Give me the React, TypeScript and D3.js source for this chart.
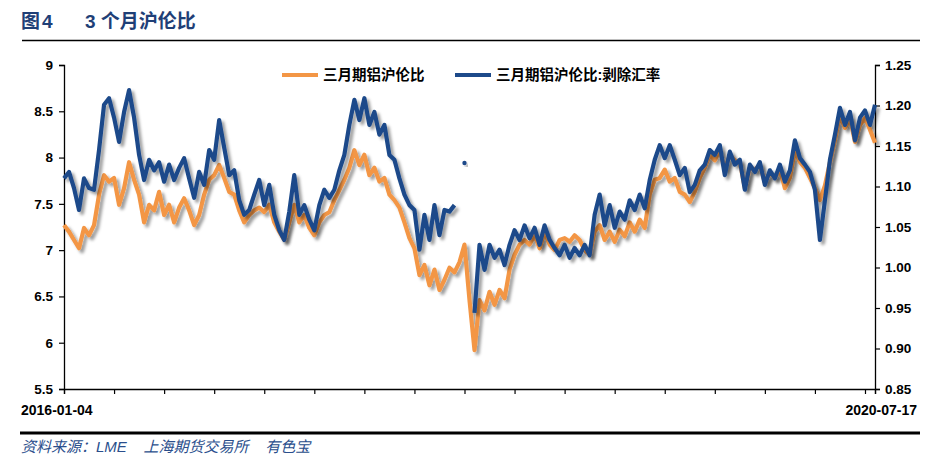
import React, { useEffect, useRef } from "react";
import * as d3 from "d3";

// 三月期铝沪伦比 (left axis) at even steps from 2016-01-04 to 2020-07-17
const shlmeRatio: number[] = [
  7.27, 7.20, 7.11, 7.02, 7.24, 7.16, 7.27, 7.60, 7.81, 7.74,
  7.78, 7.49, 7.67, 7.95, 7.76, 7.60, 7.30, 7.49, 7.43, 7.63,
  7.38, 7.49, 7.30, 7.46, 7.56, 7.43, 7.27, 7.38, 7.60, 7.76,
  7.81, 7.92, 7.78, 7.63, 7.60, 7.43, 7.30, 7.38, 7.43, 7.46,
  7.41, 7.49, 7.30, 7.20, 7.11, 7.30, 7.49, 7.30, 7.38, 7.24,
  7.16, 7.30, 7.38, 7.41, 7.54, 7.65, 7.76, 7.89, 8.08, 7.92,
  8.03, 7.81, 7.89, 7.74, 7.78, 7.60, 7.54, 7.46, 7.30, 7.13,
  7.02, 6.73, 6.84, 6.62, 6.79, 6.57, 6.68, 6.81, 6.76, 6.87,
  7.06, 6.46, 5.92, 6.46, 6.35, 6.55, 6.41, 6.57, 6.48, 6.79,
  6.95, 7.06, 7.11, 7.06, 7.16, 7.02, 7.20, 7.06, 7.00, 7.11,
  7.13, 7.09, 7.16, 7.11, 7.00, 6.95, 7.20, 7.27, 7.11, 7.20,
  7.09, 7.22, 7.15, 7.30, 7.20, 7.33, 7.24, 7.60, 7.76, 7.78,
  7.87, 7.74, 7.78, 7.63, 7.60, 7.52, 7.63, 7.78, 7.89, 8.03,
  7.97, 8.08, 7.87, 8.03, 7.97, 7.95, 7.67, 7.89, 7.87, 7.92,
  7.73, 7.84, 7.78, 7.87, 7.67, 7.78, 8.08, 7.95, 7.89, 7.78,
  7.67, 7.54, 7.70, 7.95, 8.19, 8.46, 8.32, 8.43, 8.17, 8.35,
  8.43, 8.30, 8.16,
];

// 三月期铝沪伦比:剥除汇率 (right axis)
const shlmeExFx: (number | null)[] = [
  1.110, 1.118, 1.098, 1.071, 1.110, 1.098, 1.096, 1.145, 1.201, 1.209,
  1.185, 1.155, 1.192, 1.219, 1.185, 1.139, 1.108, 1.133, 1.120, 1.130,
  1.106, 1.127, 1.108, 1.123, 1.135, 1.110, 1.086, 1.118, 1.102, 1.145,
  1.133, 1.182, 1.148, 1.114, 1.120, 1.083, 1.065, 1.071, 1.090, 1.108,
  1.077, 1.102, 1.065, 1.046, 1.034, 1.069, 1.114, 1.065, 1.077, 1.059,
  1.046, 1.077, 1.096, 1.086, 1.096, 1.120, 1.139, 1.176, 1.207, 1.182,
  1.209, 1.176, 1.192, 1.164, 1.176, 1.139, 1.133, 1.110, 1.090, 1.077,
  1.071, 1.022, 1.065, 1.034, 1.077, 1.040, 1.071, 1.069, 1.077, null,
  1.129, null, 0.944, 1.028, 0.997, 1.028, 1.012, 1.022, 1.003, 1.028,
  1.046, 1.034, 1.052, 1.036, 1.049, 1.028, 1.052, 1.034, 1.024, 1.015,
  1.028, 1.012, 1.024, 1.015, 1.028, 1.015, 1.065, 1.090, 1.052, 1.077,
  1.049, 1.069, 1.059, 1.083, 1.071, 1.090, 1.073, 1.108, 1.133, 1.151,
  1.135, 1.151, 1.133, 1.114, 1.123, 1.093, 1.102, 1.120, 1.127, 1.145,
  1.139, 1.151, 1.114, 1.143, 1.127, 1.133, 1.096, 1.127, 1.118, 1.130,
  1.102, 1.120, 1.110, 1.127, 1.106, 1.120, 1.157, 1.135, 1.127, 1.118,
  1.096, 1.034, 1.083, 1.133, 1.164, 1.197, 1.176, 1.192, 1.157, 1.185,
  1.194, 1.176, 1.201,
];

const xLabels = ["2016-01-04", "2020-07-17"];
const seriesNames = ["三月期铝沪伦比", "三月期铝沪伦比:剥除汇率"];
const leftTicks = [5.5, 6, 6.5, 7, 7.5, 8, 8.5, 9];
const rightTicks = [0.85, 0.9, 0.95, 1.0, 1.05, 1.1, 1.15, 1.2, 1.25];

const ORANGE = "#F39645";
const BLUE = "#1D4A8A";
const FONT = "Arial, 'Liberation Sans', 'Noto Sans CJK SC', sans-serif";

const App = () => {
  const ref = useRef<SVGSVGElement>(null);

  useEffect(() => {
    const svg = d3.select(ref.current);
    svg.selectAll("*").remove();

    const width = 935;
    const height = 460;
    const margin = { top: 65, right: 60, bottom: 71, left: 64 };
    const n = shlmeRatio.length;

    const x = d3.scaleLinear().domain([0, n - 1]).range([margin.left, width - margin.right]);
    const yL = d3.scaleLinear().domain([5.5, 9]).range([height - margin.bottom, margin.top]);
    const yR = d3.scaleLinear().domain([0.85, 1.25]).range([height - margin.bottom, margin.top]);

    svg.attr("width", width).attr("height", height).style("font-family", FONT);

    const defs = svg.append("defs");
    defs.append("filter")
      .attr("id", "shadow")
      .attr("x", "-5%").attr("y", "-10%").attr("width", "115%").attr("height", "130%")
      .append("feDropShadow")
      .attr("dx", 3).attr("dy", 3).attr("stdDeviation", 1.6)
      .attr("flood-color", "#000").attr("flood-opacity", 0.38);

    // title
    svg.append("text").attr("x", 21).attr("y", 28)
      .attr("font-size", 19).attr("font-weight", "bold").attr("fill", "#1F3F77")
      .attr("letter-spacing", 2)
      .text("图4");
    svg.append("text").attr("x", 85).attr("y", 28)
      .attr("font-size", 19).attr("font-weight", "bold").attr("fill", "#1F3F77")
      .text("3 个月沪伦比");
    svg.append("line").attr("x1", 22).attr("x2", 920).attr("y1", 40.5).attr("y2", 40.5)
      .attr("stroke", "#000").attr("stroke-width", 1.5);

    // axes
    const gl = svg.append("g").attr("transform", `translate(${margin.left},0)`)
      .call(d3.axisLeft(yL).tickValues(leftTicks).tickSize(5).tickPadding(6).tickFormat(d => String(d)));
    const gr = svg.append("g").attr("transform", `translate(${width - margin.right},0)`)
      .call(d3.axisRight(yR).tickValues(rightTicks).tickSize(5).tickPadding(5).tickFormat(d3.format(".2f")));
    const xTicks = d3.range(0, n, 10).concat([n - 1]);
    const gb = svg.append("g").attr("transform", `translate(0,${height - margin.bottom})`)
      .call(d3.axisBottom(x).tickValues(xTicks).tickSize(5).tickFormat(() => ""));
    [gl, gr, gb].forEach(g => {
      g.select(".domain").attr("stroke", "#000").attr("stroke-width", 1.3);
      g.selectAll(".tick line").attr("stroke", "#000").attr("stroke-width", 1.2);
      g.selectAll(".tick text").attr("font-size", 13.5).attr("font-weight", "bold")
        .attr("fill", "#000").style("font-family", FONT);
    });

    svg.append("text").attr("x", 21).attr("y", 415)
      .attr("font-size", 14).attr("font-weight", "bold").text(xLabels[0]);
    svg.append("text").attr("x", 917).attr("y", 415).attr("text-anchor", "end")
      .attr("font-size", 14).attr("font-weight", "bold").text(xLabels[1]);

    // lines
    const lineL = d3.line<number>().x((_, i) => x(i)).y(d => yL(d));
    const lineR = d3.line<number | null>()
      .defined(d => d != null)
      .x((_, i) => x(i)).y(d => yR(d as number));

    svg.append("path").datum(shlmeRatio).attr("d", lineL)
      .attr("fill", "none").attr("stroke", ORANGE).attr("stroke-width", 4.2)
      .attr("stroke-linejoin", "round").attr("filter", "url(#shadow)");

    svg.append("path").datum(shlmeExFx).attr("d", lineR)
      .attr("fill", "none").attr("stroke", BLUE).attr("stroke-width", 4.2)
      .attr("stroke-linejoin", "round").attr("filter", "url(#shadow)");

    // isolated points of the blue series
    svg.selectAll("circle.iso")
      .data(shlmeExFx.map((d, i) => ({ d, i }))
        .filter(p => p.d != null && shlmeExFx[p.i - 1] == null && shlmeExFx[p.i + 1] == null))
      .enter().append("circle")
      .attr("cx", p => x(p.i)).attr("cy", p => yR(p.d as number)).attr("r", 2.2)
      .attr("fill", BLUE).attr("filter", "url(#shadow)");

    // legend
    const legend = [
      { name: seriesNames[0], color: ORANGE, x0: 282 },
      { name: seriesNames[1], color: BLUE, x0: 455 },
    ];
    legend.forEach(l => {
      svg.append("line").attr("x1", l.x0).attr("x2", l.x0 + 36).attr("y1", 75).attr("y2", 75)
        .attr("stroke", l.color).attr("stroke-width", 4);
      svg.append("text").attr("x", l.x0 + 41).attr("y", 80)
        .attr("font-size", 14.5).attr("font-weight", "bold").attr("fill", "#000").text(l.name);
    });

    // footer
    svg.append("line").attr("x1", 20).attr("x2", 920).attr("y1", 433).attr("y2", 433)
      .attr("stroke", "#000").attr("stroke-width", 3);
    svg.append("text").attr("x", 21).attr("y", 452)
      .attr("font-size", 15).attr("font-style", "italic").attr("fill", "#2A4E8C")
      .attr("xml:space", "preserve").style("white-space", "pre")
      .text("资料来源：LME    上海期货交易所    有色宝");
  }, []);

  return <svg ref={ref} style={{ position: "absolute", left: 0, top: 0 }}></svg>;
};

export default App;
